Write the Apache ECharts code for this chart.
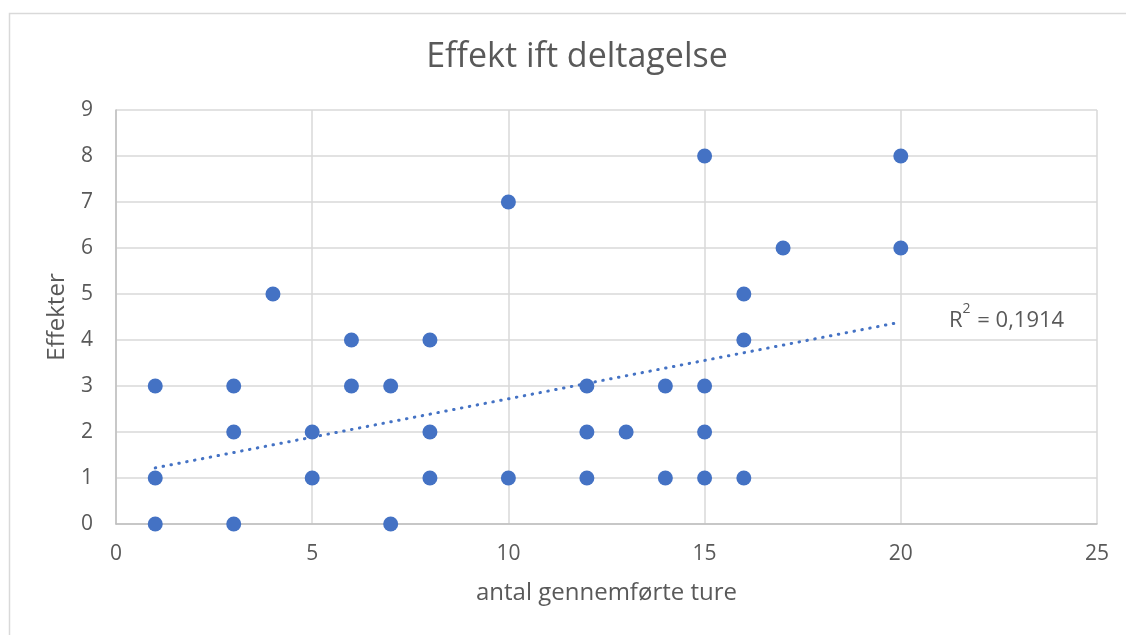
<!DOCTYPE html>
<html>
<head>
<meta charset="utf-8">
<script src="https://cdn.jsdelivr.net/npm/echarts@6/dist/echarts.min.js"></script>
<style>
html,body{margin:0;padding:0;background:#fff;}
#main{width:1126px;height:635px;}
</style>
</head>
<body>
<div id="main"></div>
<script>
var title = "Effekt ift deltagelse";
var xAxisName = "antal gennemførte ture";
var yAxisName = "Effekter";
var xTicks = [0, 5, 10, 15, 20, 25];
var yTicks = [0, 1, 2, 3, 4, 5, 6, 7, 8, 9];
var tureX = [1, 1, 1, 3, 3, 3, 4, 5, 5, 6, 6, 7, 7, 8, 8, 8, 10, 10, 12, 12, 12, 13, 14, 14, 15, 15, 15, 15, 16, 16, 16, 17, 20, 20];
var effektY = [3, 1, 0, 3, 2, 0, 5, 2, 1, 4, 3, 3, 0, 4, 2, 1, 7, 1, 3, 2, 1, 2, 3, 1, 8, 3, 2, 1, 5, 4, 1, 6, 8, 6];
var trendX = [1, 20];
var trendY = [1.22, 4.39];
var rSquared = "0,1914";

var points = tureX.map(function (x, i) { return [x, effektY[i]]; });
var trendPts = trendX.map(function (x, i) { return [x, trendY[i]]; });
var fontFam = "'Open Sans', 'Noto Sans', sans-serif";
var textCol = '#595959';

var chart = echarts.init(document.getElementById('main'), null, {renderer: 'canvas'});
chart.setOption({
  backgroundColor: '#fff',
  animation: false,
  title: {
    text: title, left: 572, top: 35, textAlign: 'center',
    textStyle: {fontFamily: fontFam, fontSize: 34, fontWeight: 'normal', color: textCol}
  },
  grid: {left: 116, top: 110, right: 29, bottom: 111, containLabel: false},
  xAxis: {
    type: 'value', min: xTicks[0], max: xTicks[xTicks.length - 1], interval: 5,
    name: xAxisName, nameLocation: 'middle', nameGap: 57,
    nameTextStyle: {fontFamily: fontFam, fontSize: 24, color: textCol},
    axisLine: {show: true, lineStyle: {color: '#bfbfbf', width: 1.5}},
    axisTick: {show: false},
    axisLabel: {fontFamily: fontFam, fontSize: 21, color: textCol, margin: 20},
    splitLine: {show: true, lineStyle: {color: '#d9d9d9', width: 1.5}}
  },
  yAxis: {
    type: 'value', min: yTicks[0], max: yTicks[yTicks.length - 1], interval: 1,
    name: yAxisName, nameLocation: 'middle', nameGap: 47,
    nameTextStyle: {fontFamily: fontFam, fontSize: 24, color: textCol},
    axisLine: {show: true, lineStyle: {color: '#bfbfbf', width: 1.5}},
    axisTick: {show: false},
    axisLabel: {fontFamily: fontFam, fontSize: 21, color: textCol, margin: 23},
    splitLine: {show: true, lineStyle: {color: '#d9d9d9', width: 1.5}}
  },
  graphic: [
    {type: 'rect', left: 7, top: 11, silent: true, z: -10,
     shape: {width: 1200, height: 700},
     style: {fill: 'none', stroke: '#d9d9d9', lineWidth: 1.5}},
    {type: 'text', left: 949, top: 302, z: 10,
     style: {
       fill: textCol,
       text: '{b|R}{s|2}{b| = ' + rSquared + '}',
       rich: {
         b: {fontFamily: fontFam, fontSize: 22, fill: textCol, color: textCol, verticalAlign: 'bottom', lineHeight: 30},
         s: {fontFamily: fontFam, fontSize: 14, fill: textCol, color: textCol, verticalAlign: 'top', lineHeight: 30, padding: [0, 1, 15, 0]}
       }
     }}
  ],
  series: [
    {
      type: 'line', data: trendPts, symbol: 'none', z: 1,
      lineStyle: {color: '#4472C4', width: 3, type: [0.5, 7.5], cap: 'round'}
    },
    {
      type: 'scatter', data: points, symbol: 'circle', symbolSize: 15, z: 2,
      itemStyle: {color: '#4472C4', opacity: 1}
    }
  ]
});
</script>
</body>
</html>
